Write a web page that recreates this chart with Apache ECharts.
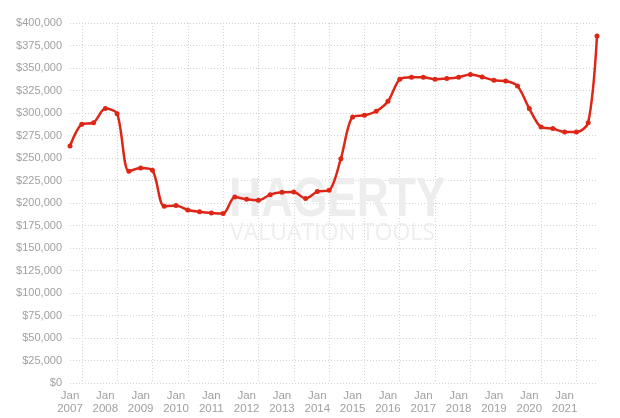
<!DOCTYPE html>
<html>
<head>
<meta charset="utf-8">
<script src="https://cdn.jsdelivr.net/npm/echarts@6/dist/echarts.min.js"></script>
<style>
html,body{margin:0;padding:0;background:#ffffff;}
#chart{width:620px;height:418px;}
</style>
</head>
<body>
<div id="chart"></div>
<script>
// ---- data ----
const firstYear = 2007;
const lastYear = 2021;
const pointDates = [
  '2007-01','2007-05','2007-09','2008-01','2008-05','2008-09',
  '2009-01','2009-05','2009-09','2010-01','2010-05','2010-09',
  '2011-01','2011-05','2011-09','2012-01','2012-05','2012-09',
  '2013-01','2013-05','2013-09','2014-01','2014-05','2014-09',
  '2015-01','2015-05','2015-09','2016-01','2016-05','2016-09',
  '2017-01','2017-05','2017-09','2018-01','2018-05','2018-09',
  '2019-01','2019-05','2019-09','2020-01','2020-05','2020-09',
  '2021-01','2021-05','2021-09','2021-12'
];
const values = [
  263300, 287400, 289300, 304900, 299300, 235200,
  238900, 236300, 196300, 197200, 192200, 190200,
  188900, 188200, 206700, 204100, 203000, 209300,
  211900, 212200, 204900, 212700, 214100, 249300,
  295600, 297400, 301900, 313000, 337400, 339700,
  339700, 337400, 338200, 339700, 342700, 340000,
  336300, 335600, 330000, 304900, 284400, 282700,
  278900, 278900, 289300, 385600
];
const yMin = 0, yMax = 400000, yStep = 25000;
const watermarkTitle = 'HAGERTY';
const watermarkSub = 'VALUATION TOOLS';

// monthly category axis (Jan firstYear .. Dec lastYear)
const months = [];
for (let y = firstYear; y <= lastYear; y++) {
  for (let m = 1; m <= 12; m++) months.push(y + '-' + (m < 10 ? '0' + m : '' + m));
}
const seriesData = pointDates.map((d, i) => [d, values[i]]);

const gridColor = '#d4d4d4';
const labelColor = '#a0a0a0';
const lineColor = '#de2616';
const font = '"Liberation Sans", Arial, sans-serif';

const chart = echarts.init(document.getElementById('chart'), null, {renderer: 'canvas'});
chart.setOption({
  animation: false,
  backgroundColor: '#ffffff',
  grid: {left: 70, right: 23, top: 23, bottom: 35, containLabel: false},
  xAxis: {
    type: 'category',
    data: months,
    boundaryGap: false,
    axisLine: {show: false},
    axisTick: {show: false},
    axisLabel: {
      interval: (idx) => idx % 12 === 0,
      formatter: (v) => 'Jan\n' + v.slice(0, 4),
      color: labelColor,
      fontFamily: font,
      fontSize: 11.5,
      lineHeight: 13,
      margin: 6
    },
    splitLine: {
      show: true,
      interval: (idx) => idx % 12 === 4,
      lineStyle: {color: gridColor, type: [1, 2], width: 1}
    }
  },
  yAxis: {
    type: 'value',
    min: yMin,
    max: yMax,
    interval: yStep,
    axisLine: {show: false},
    axisTick: {show: false},
    axisLabel: {
      formatter: (v) => '$' + v.toLocaleString('en-US'),
      color: labelColor,
      fontFamily: font,
      fontSize: 11,
      margin: 8,
      padding: [0, 0, 9, 0]
    },
    splitLine: {
      show: true,
      lineStyle: {color: gridColor, type: [1, 2], width: 1}
    }
  },
  graphic: [
    {
      type: 'text', left: 229, top: 173, z: 1, silent: true, scaleX: 0.79,
      style: {text: watermarkTitle, font: 'bold 56px "Liberation Sans", Arial, sans-serif', fill: '#ededed'}
    },
    {
      type: 'text', left: 437, top: 177, z: 1, silent: true,
      style: {text: '\u00AE', font: '9px ' + font, fill: '#e8e8e8'}
    },
    {
      type: 'text', left: 230, top: 222, z: 1, silent: true,
      style: {text: watermarkSub, font: '23px "Open Sans", ' + font, fill: '#eeeeee'}
    }
  ],
  series: [{
    type: 'line',
    data: seriesData,
    connectNulls: true,
    smooth: 0.3,
    showAllSymbol: true,
    symbol: 'circle',
    symbolSize: 5,
    itemStyle: {color: lineColor},
    lineStyle: {color: lineColor, width: 2.5},
    z: 3
  }]
});
</script>
</body>
</html>
